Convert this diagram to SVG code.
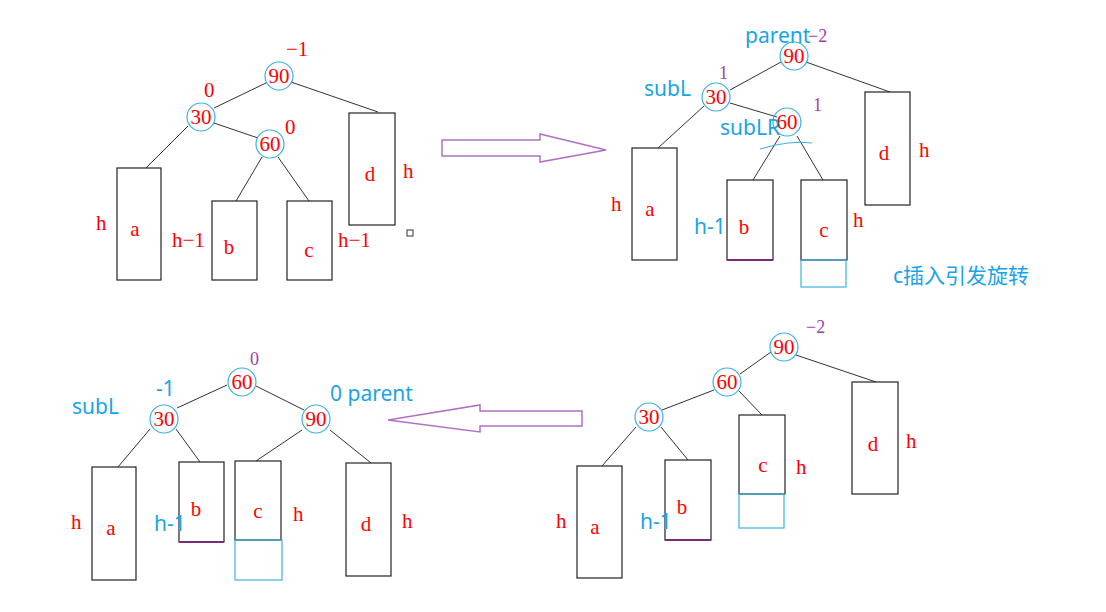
<svg xmlns="http://www.w3.org/2000/svg" width="1106" height="612" viewBox="0 0 1106 612">
<style>
.n{fill:none;stroke:#3ab0e6;stroke-width:1.2}
.k{fill:red;font-family:"Liberation Serif",serif;font-size:21px;text-anchor:middle}
.r{fill:red;font-family:"Liberation Serif",serif;font-size:21px}
.b{fill:#1aa3e8;font-family:"Noto Sans","Noto Sans CJK SC",sans-serif;font-size:21px}
.p{fill:#a040b0;font-family:"Liberation Serif",serif;font-size:18px}
.box{fill:none;stroke:#222;stroke-width:1.2}
.nb{fill:none;stroke:#3ab0e6;stroke-width:1.2}
.e{stroke:#333;stroke-width:1;fill:none}
.ar{fill:none;stroke:#b070c8;stroke-width:1.5}
</style>
<rect width="1106" height="612" fill="#fff"/>
<g id="connectors">
<path class="e" d="M291 82L378 112M266 83L214 108M214 123L258 138M188 126L146 168M262 157L236 201M278 157L309 201"/>
<path class="e" d="M806 62L890 92M781 62L730 90M704 106L658 148M730 103L777 117M780 136L753 180M797 136L823 180"/>
<path class="e" d="M796 355L876 382M771 352L740 374M714 390L662 410M739 391L762 415M636 427L602 466M661 427L688 460"/>
<path class="e" d="M227 385L177 408M256 386L304 410M150 429L118 467M176 429L200 462M302 430L256 461M330 430L371 463"/>
<polygon class="ar" points="442,140 540,140 540,134 606,150 540,162 540,156 442,156"/>
<polygon class="ar" points="582,411 480,411 480,405 388,420 480,432 480,426 582,426"/>
</g>
<g id="top-left">
<circle class="n" cx="279" cy="76" r="14"/><text class="k" x="279" y="83">90</text>
<circle class="n" cx="201" cy="117" r="14"/><text class="k" x="201" y="124">30</text>
<circle class="n" cx="270" cy="144" r="14"/><text class="k" x="270" y="151">60</text>
<rect class="box" x="117" y="168" width="44" height="112"/><text class="k" x="135" y="236">a</text>
<rect class="box" x="212" y="201" width="45" height="79"/><text class="k" x="229" y="254">b</text>
<rect class="box" x="287" y="201" width="45" height="79"/><text class="k" x="309" y="257">c</text>
<rect class="box" x="349" y="113" width="46" height="112"/><text class="k" x="370" y="181">d</text>
<text class="r" x="286" y="56">−1</text><text class="r" x="204" y="97">0</text><text class="r" x="285" y="134">0</text>
<text class="r" x="96" y="230">h</text><text class="r" x="172" y="247">h−1</text><text class="r" x="338" y="247">h−1</text><text class="r" x="403" y="178">h</text>
<rect x="407" y="230" width="6" height="6" fill="none" stroke="#333"/>
</g>
<g id="top-right">
<circle class="n" cx="794" cy="56" r="14"/><text class="k" x="794" y="63">90</text>
<circle class="n" cx="716" cy="97" r="14"/><text class="k" x="716" y="104">30</text>
<circle class="n" cx="787" cy="122" r="14"/><text class="k" x="787" y="129">60</text>
<path d="M760 149Q790 140 812 143" stroke="#3ab0e6" fill="none"/>
<rect class="box" x="632" y="148" width="45" height="112"/><text class="k" x="650" y="216">a</text>
<rect class="box" x="727" y="180" width="46" height="80"/><line x1="727" y1="260" x2="773" y2="260" stroke="#7a2a7a" stroke-width="2"/><text class="k" x="744" y="234">b</text>
<rect class="box" x="801" y="180" width="46" height="80"/><rect class="nb" x="801" y="260" width="45" height="27"/><text class="k" x="824" y="237">c</text>
<rect class="box" x="865" y="92" width="45" height="113"/><text class="k" x="884" y="160">d</text>
<text class="b" x="745" y="43">parent</text><text class="p" x="808" y="42">−2</text>
<text class="b" x="644" y="96">subL</text><text class="p" x="719" y="79">1</text>
<text class="b" x="720" y="135">subLR</text><text class="p" x="813" y="111">1</text>
<text class="r" x="611" y="211">h</text><text class="b" x="694" y="234">h-1</text><text class="r" x="853" y="227">h</text><text class="r" x="919" y="157">h</text>
<text class="b" x="893" y="283">c插入引发旋转</text>
</g>
<g id="bottom-right">
<circle class="n" cx="784" cy="347" r="14"/><text class="k" x="784" y="354">90</text>
<circle class="n" cx="727" cy="382" r="14"/><text class="k" x="727" y="389">60</text>
<circle class="n" cx="649" cy="417" r="14"/><text class="k" x="649" y="424">30</text>
<rect class="box" x="577" y="466" width="45" height="112"/><text class="k" x="595" y="534">a</text>
<rect class="box" x="665" y="460" width="46" height="80"/><line x1="665" y1="540" x2="711" y2="540" stroke="#7a2a7a" stroke-width="2"/><text class="k" x="682" y="514">b</text>
<rect class="box" x="739" y="415" width="46" height="79"/><rect class="nb" x="739" y="494" width="45" height="34"/><text class="k" x="763" y="472">c</text>
<rect class="box" x="852" y="382" width="46" height="112"/><text class="k" x="873" y="451">d</text>
<text class="p" x="806" y="333">−2</text>
<text class="r" x="556" y="528">h</text><text class="b" x="640" y="529">h-1</text><text class="r" x="796" y="474">h</text><text class="r" x="906" y="448">h</text>
</g>
<g id="bottom-left">
<circle class="n" cx="242" cy="382" r="14"/><text class="k" x="242" y="389">60</text>
<circle class="n" cx="164" cy="419" r="14"/><text class="k" x="164" y="426">30</text>
<circle class="n" cx="316" cy="419" r="14"/><text class="k" x="316" y="426">90</text>
<rect class="box" x="92" y="467" width="44" height="113"/><text class="k" x="111" y="535">a</text>
<rect class="box" x="179" y="462" width="45" height="80"/><line x1="179" y1="542" x2="224" y2="542" stroke="#7a2a7a" stroke-width="2"/><text class="k" x="196" y="516">b</text>
<rect class="box" x="235" y="461" width="46" height="79"/><rect class="nb" x="235" y="540" width="47" height="40"/><text class="k" x="258" y="518">c</text>
<rect class="box" x="346" y="463" width="45" height="113"/><text class="k" x="366" y="531">d</text>
<text class="p" x="250" y="365">0</text><text class="b" x="156" y="396">-1</text>
<text class="b" x="72" y="414">subL</text><text class="b" x="330" y="401">0  parent</text>
<text class="r" x="71" y="529">h</text><text class="b" x="154" y="531">h-1</text><text class="r" x="293" y="521">h</text><text class="r" x="402" y="528">h</text>
</g>
</svg>
